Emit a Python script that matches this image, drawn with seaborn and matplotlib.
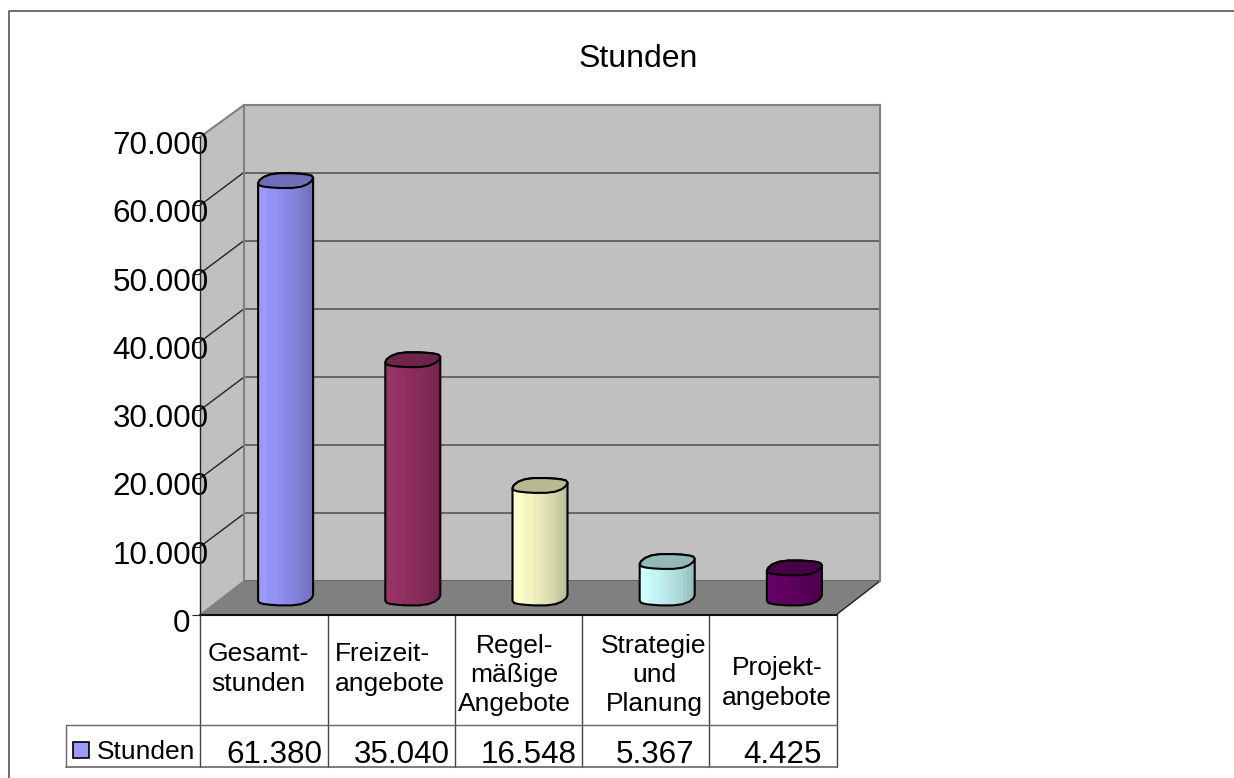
import matplotlib
matplotlib.use('Agg')
import matplotlib.pyplot as plt
import numpy as np
import seaborn as sns
from matplotlib.patches import Polygon, Rectangle
from matplotlib.transforms import ScaledTranslation

BREITE = 1234
HOEHE = 778

TITEL = 'Stunden'
KATEGORIEN = ['Gesamtstunden', 'Freizeitangebote', 'Regelmäßige Angebote', 'Strategie und Planung', 'Projektangebote']
ZEILEN = ['Gesamt-\nstunden', 'Freizeit-\nangebote', 'Regel-\nmäßige\nAngebote', 'Strategie\nund\nPlanung', 'Projekt-\nangebote']
WERTE = [61380, 35040, 16548, 5367, 4425]
WERTE_TEXT = ['61.380', '35.040', '16.548', '5.367', '4.425']
TICKS = [0, 10000, 20000, 30000, 40000, 50000, 60000, 70000]
TICK_TEXT = ['0', '10.000', '20.000', '30.000', '40.000', '50.000', '60.000', '70.000']
FARBEN = ['#9999ff', '#993366', '#ffffcc', '#ccffff', '#660066']
STREIFEN = [1.0, 1.0, 0.98, 0.96, 0.96, 0.93, 0.92, 0.90, 0.88, 0.86, 0.84, 0.80, 0.77, 0.74]


def achse(fig, links, oben, rechts, unten, zorder):
    ax = fig.add_axes([links / BREITE, 1 - unten / HOEHE, (rechts - links) / BREITE, (unten - oben) / HOEHE])
    ax.set_zorder(zorder)
    ax.patch.set_alpha(0)
    return ax


def umriss(cx, cy):
    # leicht schiefe Ellipse mit Facetten, Halbachsen in Pixeln
    t = np.linspace(0, 2 * np.pi, 19)[:-1]
    dx = 27.5 * np.sign(np.cos(t)) * np.abs(np.cos(t)) ** 0.85
    dy = 7.5 * np.sin(t) + 2 * np.cos(t) + 0.7 * np.cos(3 * t)
    return cx + dx / 127.2, cy + dy * 70000 / 476


def zeichne_saeulen(ax, fig):
    for balken, farbe, wert in zip(ax.patches, FARBEN, WERTE):
        x0 = balken.get_x()
        w = balken.get_width()
        cx = x0 + w / 2
        xu, yu = umriss(cx, 0)
        xo, yo = umriss(cx, wert)
        n = len(xu)
        # untere Kante vorne, obere Kante hinten
        unten = np.column_stack([np.append(xu[n // 2:], xu[0]), np.append(yu[n // 2:], yu[0])])
        oben = np.column_stack([xo[:n // 2 + 1], yo[:n // 2 + 1]])
        flaeche = Polygon(np.vstack([unten, oben]), closed=True, transform=ax.transData,
                          facecolor='none', edgecolor='black', lw=1.5, zorder=4, clip_on=False)
        ax.add_patch(flaeche)
        balken.set_clip_path(flaeche)
        balken.set_clip_box(fig.bbox)

        basis = np.array(matplotlib.colors.to_rgb(farbe))
        bild = np.array([[basis * s for s in STREIFEN]])
        img = ax.imshow(bild, extent=[x0, x0 + w, -1500, wert + 1500], aspect='auto',
                        interpolation='nearest', zorder=3)
        img.set_clip_path(flaeche)
        img.set_clip_box(fig.bbox)

        ax.add_patch(Polygon(np.column_stack([xo, yo]), closed=True, facecolor=basis * 0.72,
                             edgecolor='black', lw=1.5, zorder=5, clip_on=False))


def main():
    sns.set_theme(style='white')
    plt.rcParams['font.family'] = ['Liberation Sans', 'DejaVu Sans']

    fig = plt.figure(figsize=(BREITE / 100, HOEHE / 100), dpi=100, facecolor='white')

    bg = fig.add_axes([0, 0, 1, 1])
    bg.set_xlim(0, BREITE)
    bg.set_ylim(HOEHE, 0)
    bg.axis('off')

    # Rahmen
    bg.plot([9, 9, BREITE], [HOEHE, 11, 11], color='#555555', lw=1.2)
    for x in [130, 677]:
        bg.text(x, -8, 'g', fontsize=17, ha='center', va='baseline', color='black')

    bg.text(638, 59, TITEL, fontsize=23, ha='center', va='center', color='black')

    # Seitenwand und Boden
    bg.add_patch(Polygon([(200, 137), (244, 105), (244, 581), (200, 615)], facecolor='#c0c0c0', edgecolor='none'))
    bg.add_patch(Polygon([(200, 615), (244, 581), (880, 581), (836, 615)], facecolor='#808080', edgecolor='none'))
    bg.plot([200, 244], [137, 105], color='#808080', lw=1.5)
    bg.plot([244, 200], [581, 615], color='#808080', lw=1.2)
    bg.plot([836, 880], [615, 581], color='#222222', lw=1)
    for wert in TICKS[1:-1]:
        y = 615 - wert * 478 / 70000
        bg.plot([200, 244], [y, y - 33], color='#222222', lw=1)

    # Rueckwand
    hinten = achse(fig, 244, 105, 880, 581, 1)
    hinten.patch.set_alpha(1)
    hinten.set_facecolor('#c0c0c0')
    hinten.set_ylim(0, 70000)
    hinten.set_yticks(TICKS)
    hinten.set_xticks([])
    hinten.tick_params(left=False, labelleft=False)
    hinten.grid(axis='y', color='#4d4d4d', lw=1.1)
    for seite in hinten.spines.values():
        seite.set_color('#808080')
        seite.set_linewidth(1.5)
    hinten.spines['bottom'].set_visible(False)

    # Saeulen
    ax = achse(fig, 222, 122, 858, 598, 2)
    sns.barplot(x=KATEGORIEN, y=WERTE, hue=KATEGORIEN, palette=FARBEN, saturation=1, legend=False,
                width=55 / 127.2, ax=ax)
    zeichne_saeulen(ax, fig)
    ax.set_xlim(-0.5, 4.5)
    ax.set_ylim(0, 70000)
    ax.axis('off')

    # Werteachse vorne
    vorne = achse(fig, 200, 137, 836, 615, 3)
    vorne.set_ylim(0, 70000)
    vorne.set_xticks([])
    vorne.set_yticks(TICKS)
    vorne.set_yticklabels(TICK_TEXT, fontsize=22.6, color='black')
    vorne.tick_params(axis='y', left=True, length=6, width=0.8, color='#222222', pad=-11.5)
    for label, text in zip(vorne.get_yticklabels(), TICK_TEXT):
        # die Null sitzt im Original links neben dem Strich
        dx = -17 if text == '0' else 1
        versatz = ScaledTranslation(dx / 100, -5.5 / 100, fig.dpi_scale_trans)
        label.set_transform(label.get_transform() + versatz)
    for name in ['top', 'right', 'bottom']:
        vorne.spines[name].set_visible(False)
    vorne.spines['left'].set_color('#222222')
    vorne.spines['left'].set_linewidth(1)

    # Datentabelle
    spalten = [200, 328, 455, 582, 709, 837]
    for x in spalten:
        bg.plot([x, x], [615, 767], color='#444444', lw=1)
    bg.plot([66, 66], [725, 767], color='#666666', lw=1)
    bg.plot([66, 837], [725, 725], color='#666666', lw=1)
    bg.plot([66, 837], [767, 767], color='#666666', lw=1.2)
    bg.plot([200, 837], [615, 615], color='#111111', lw=1.5)

    mitten = [258.5, 335, 514.5, 654, 777]
    hoehen = [669, 669, 675, 675, 683]
    for i, zeile in enumerate(ZEILEN):
        bg.text(mitten[i], hoehen[i], zeile, fontsize=19, va='center', linespacing=1.27,
                ha='left' if i == 1 else 'center', multialignment='left' if i == 1 else 'center', color='black')
    for i, text in enumerate(WERTE_TEXT):
        bg.text((spalten[i] + spalten[i + 1]) / 2 + 10, 763, text, fontsize=22.6, ha='center', va='baseline',
                color='black')

    bg.add_patch(Rectangle((73, 742), 16, 16, facecolor=FARBEN[0], edgecolor='black', lw=1.2))
    bg.text(97, 759, TITEL, fontsize=19, ha='left', va='baseline', color='black')

    fig.savefig('out.png', dpi=100, facecolor='white')
    plt.close(fig)


if __name__ == '__main__':
    main()
